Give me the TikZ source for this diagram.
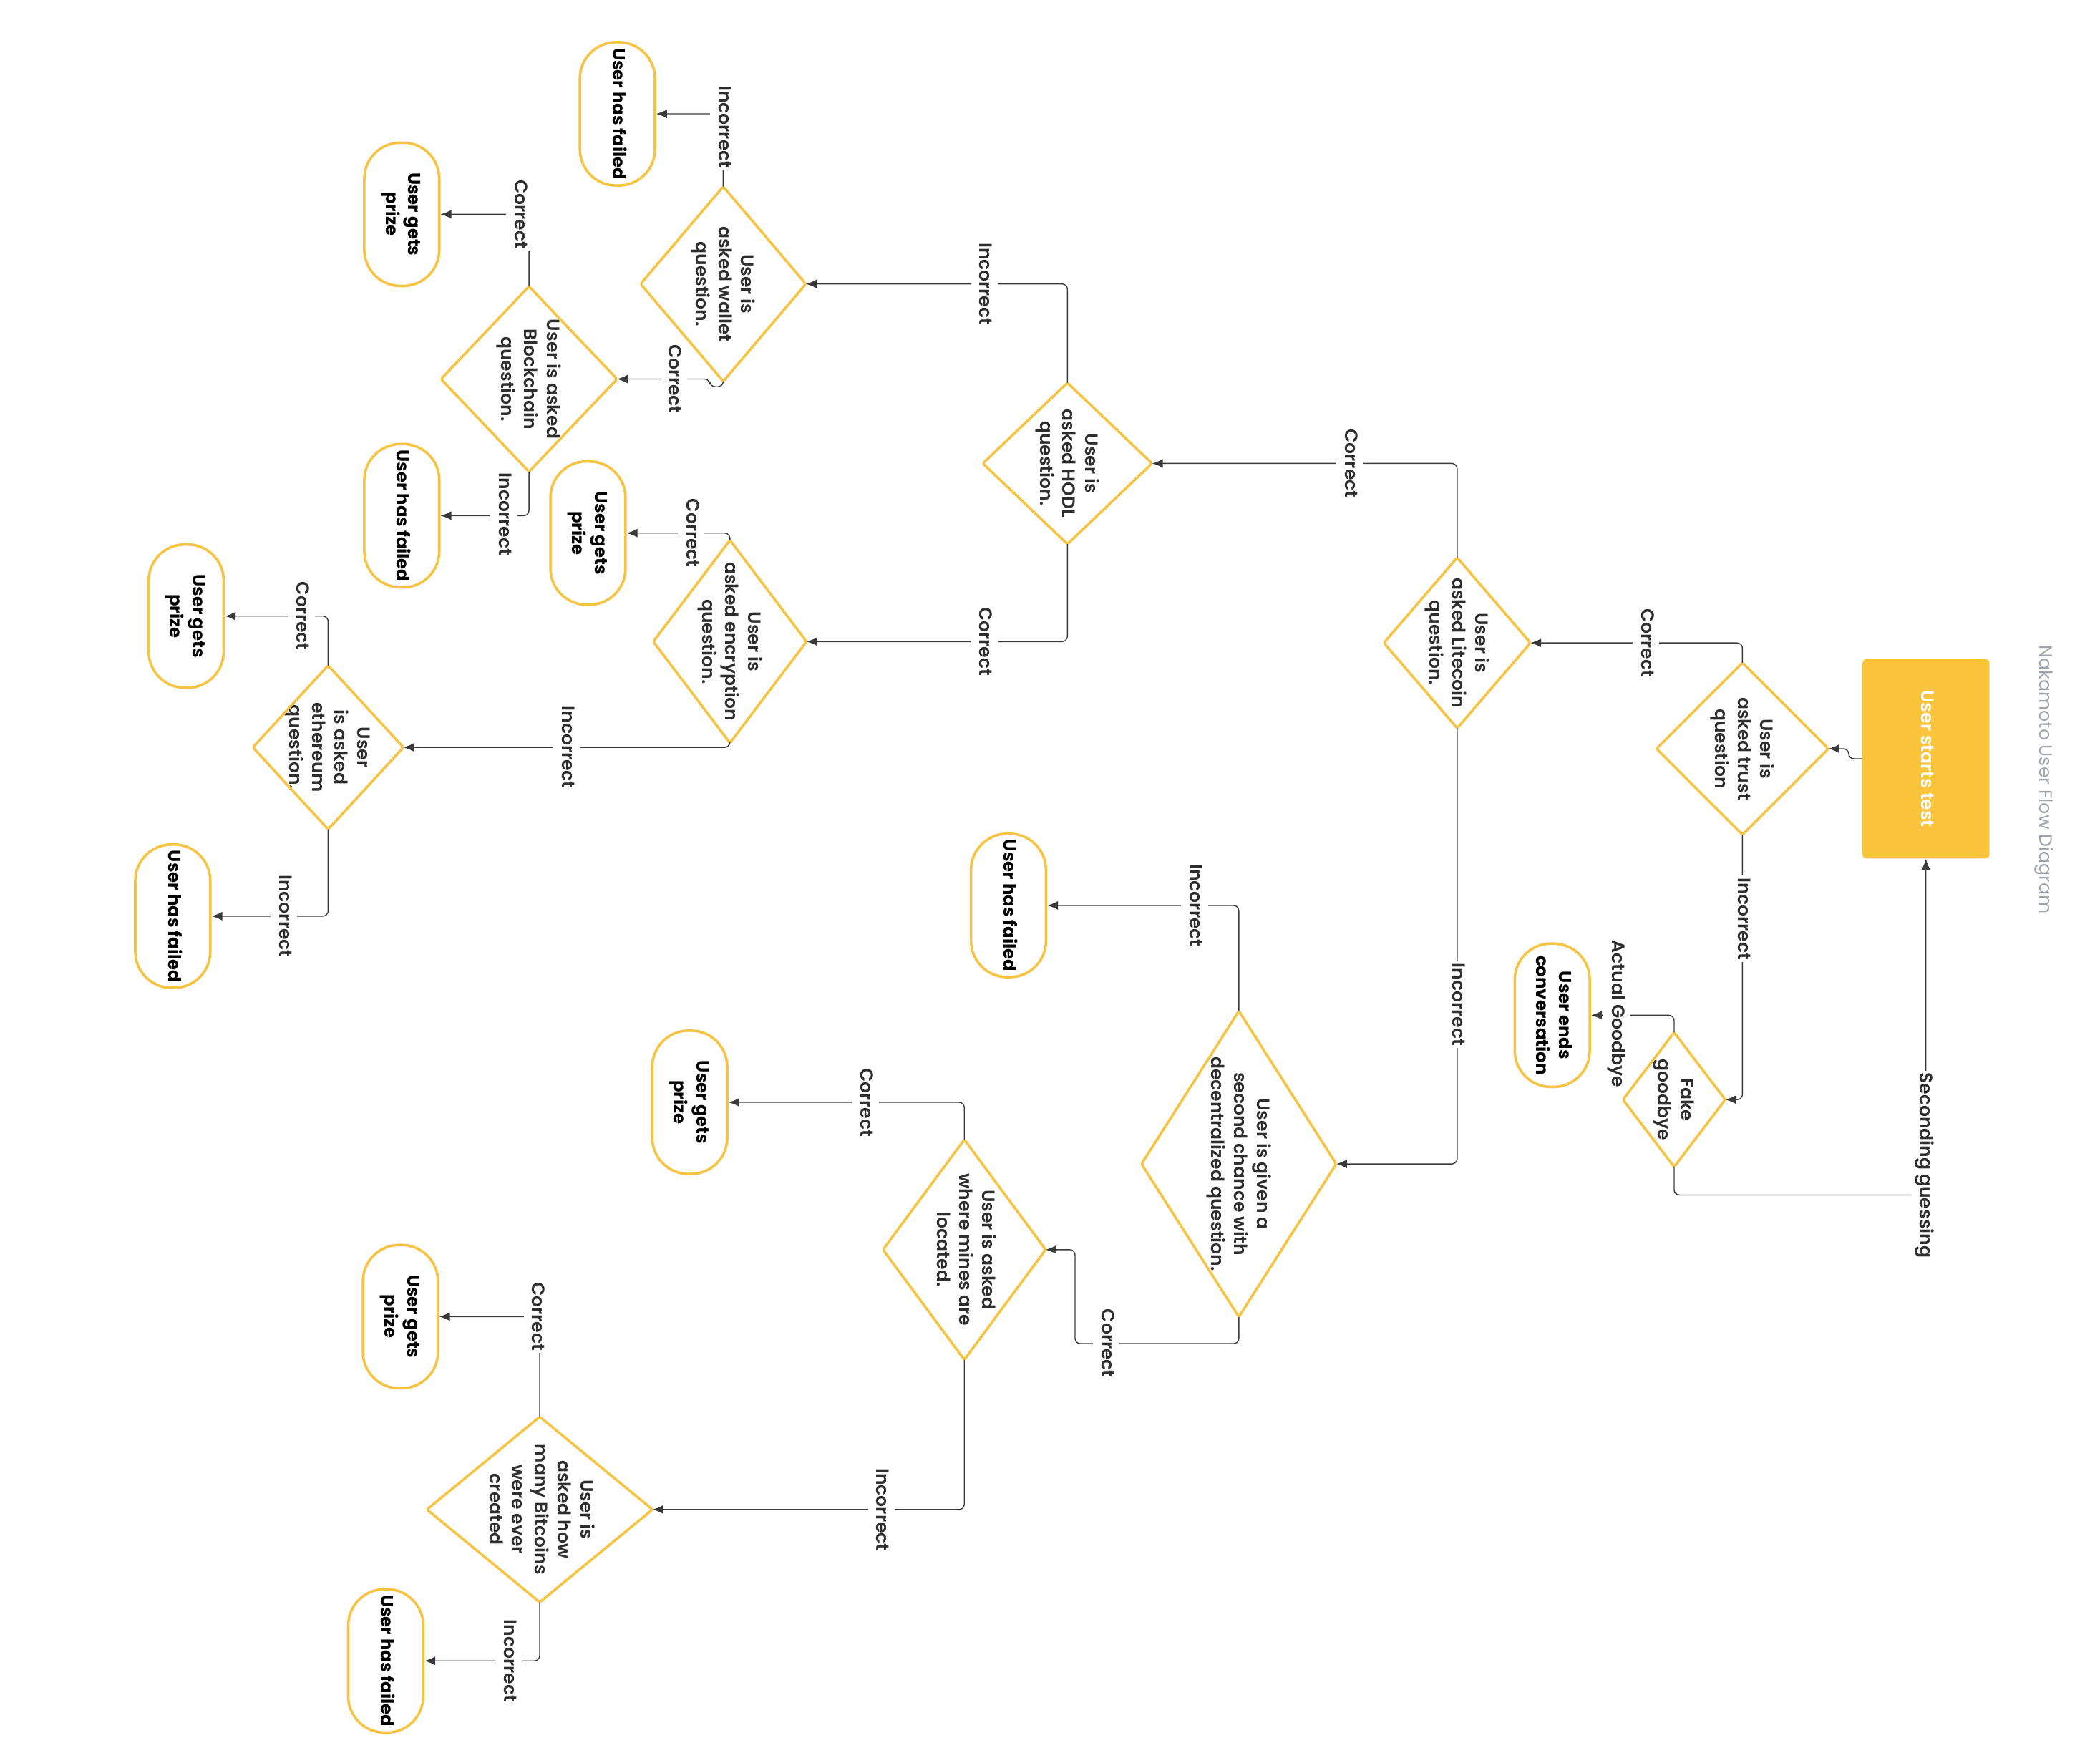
\documentclass[tikz,border=0pt]{standalone}
\usepackage{fontspec}
\setmainfont{Poppins}
\newfontfamily\popsb{Poppins SemiBold}
\usetikzlibrary{arrows.meta}
\definecolor{ylw}{HTML}{F6C343}
\definecolor{ylwfill}{HTML}{FAC43C}
\definecolor{ink}{HTML}{2E2E2E}
\definecolor{lin}{HTML}{3A3A3A}
\definecolor{ttl}{HTML}{9FA4AC}
\newcommand\rtx[1]{\rotatebox{-90}{\begin{tabular}{@{}c@{}}#1\end{tabular}}}
\newcommand\drawdia[1]{\draw[dline] (#1.north)--(#1.east)--(#1.south)--(#1.west)--cycle;}
\begin{document}
\begin{tikzpicture}[x=1pt,y=-1pt,
  base/.style={font=\popsb\fontsize{13.4}{17}\selectfont, text=ink, inner sep=0pt},
  dq/.style={base, draw=none, shape=rectangle},
  dline/.style={draw=ylw, line width=1.9pt, rounded corners=1.5pt, line join=round},
  term/.style={base, font=\bfseries\fontsize{13}{17}\selectfont, text=black, draw=ylw, line width=1.9pt, rounded corners=27pt, minimum width=56pt, minimum height=107pt},
  conn/.style={draw=lin, line width=0.75pt, rounded corners=4pt, -{Latex[length=8pt,width=6.5pt]}},
  lab/.style={base, fill=white, inner sep=1.5pt},
]
\useasboundingbox (0,0) rectangle (1568,1308.3);

% title and start
\node[font=\fontsize{13.5}{16}\selectfont, text=ttl, inner sep=0pt] (title) at (1526,582) {\rotatebox{-90}{Nakamoto User Flow Diagram}};
\node[base, fill=ylwfill, rounded corners=3pt, minimum width=95pt, minimum height=149pt, text=white] (start) at (1438,566.5) {\rtx{User starts test}};

% decision nodes
\node[dq, minimum width=128pt, minimum height=128pt] (trust) at (1301,559) {\rtx{User is\\asked trust\\question}};
\node[dq, minimum width=76pt, minimum height=100pt] (fake) at (1250,821) {\rtx{Fake\\goodbye}};
\node[dq, minimum width=109pt, minimum height=127pt] (lite) at (1088,480) {\rtx{User is\\asked Litecoin\\question.}};
\node[dq, minimum width=145pt, minimum height=228pt] (second) at (925,869) {\rtx{User is given a\\second chance with\\decentralized question.}};
\node[dq, minimum width=121pt, minimum height=164pt] (mines) at (720,933) {\rtx{User is asked\\where mines are\\located.}};
\node[dq, minimum width=168pt, minimum height=138pt] (btc) at (403,1127) {\rtx{User is\\asked how\\many Bitcoins\\were ever\\created}};
\node[dq, minimum width=126pt, minimum height=120pt] (hodl) at (797,346) {\rtx{User is\\asked HODL\\question.}};
\node[dq, minimum width=123pt, minimum height=145pt] (wallet) at (540,212) {\rtx{User is\\asked wallet\\question.}};
\node[dq, minimum width=131pt, minimum height=138pt] (block) at (395,283) {\rtx{User is asked\\Blockchain\\question.}};
\node[dq, minimum width=114pt, minimum height=151pt] (enc) at (545,479) {\rtx{User is\\asked encryption\\question.}};
\node[dq, minimum width=112pt, minimum height=122pt] (eth) at (245,558) {\rtx{User\\is asked\\ethereum\\question.}};
\foreach \d in {trust,fake,lite,second,mines,btc,hodl,wallet,block,enc,eth}{\drawdia{\d}}

% terminators
\node[term] (ends) at (1159,758) {\rtx{User ends\\conversation}};
\node[term] (f1) at (461,85) {\rtx{User has failed}};
\node[term] (p1) at (300,160) {\rtx{User gets\\prize}};
\node[term] (f2) at (300,385) {\rtx{User has failed}};
\node[term] (p2) at (439,398) {\rtx{User gets\\prize}};
\node[term] (p5) at (139,460) {\rtx{User gets\\prize}};
\node[term] (f5) at (129,684) {\rtx{User has failed}};
\node[term] (f3) at (753,676) {\rtx{User has failed}};
\node[term] (p3) at (515,823) {\rtx{User gets\\prize}};
\node[term] (p4) at (299,983) {\rtx{User gets\\prize}};
\node[term] (f4) at (288,1240) {\rtx{User has failed}};

% connectors
\draw[conn] (start.west) -- ++(-10,0) |- (trust.east);
\draw[conn] (trust.north) |- (lite.east);
\draw[conn] (trust.south) |- (fake.east);
\draw[conn] (fake.north) |- (ends.east);
\draw[conn] (fake.south) -- ++(0,21) -| (start.south);
\draw[conn] (lite.north) |- (hodl.east);
\draw[conn] (lite.south) |- (second.east);
\draw[conn] (second.north) |- (f3.east);
\draw[conn] (second.south) -- ++(0,20) -| ([xshift=22pt]mines.east) -- (mines.east);
\draw[conn] (mines.north) |- (p3.east);
\draw[conn] (mines.south) |- (btc.east);
\draw[conn] (btc.north) |- (p4.east);
\draw[conn] (btc.south) |- (f4.east);
\draw[conn] (hodl.north) |- (wallet.east);
\draw[conn] (hodl.south) |- (enc.east);
\draw[conn] (wallet.north) |- (f1.east);
\draw[conn] (wallet.south) -- ++(0,4) -- ++(-10,0) |- (block.east);
\draw[conn] (block.north) |- (p1.east);
\draw[conn] (block.south) |- (f2.east);
\draw[conn] (enc.north) |- (p2.east);
\draw[conn] (enc.south) |- (eth.east);
\draw[conn] (eth.north) |- (p5.east);
\draw[conn] (eth.south) |- (f5.east);

% labels
\node[lab] (l1) at (1229,480) {\rtx{Correct}};
\node[lab] (l2) at (1301,686) {\rtx{Incorrect}};
\node[lab] (l3) at (1207,757) {\rtx{Actual Goodbye}};
\node[lab] (l4) at (1437,870) {\rtx{Seconding guessing}};
\node[lab] (l5) at (1008,346) {\rtx{Correct}};
\node[lab] (l6) at (1088,750) {\rtx{Incorrect}};
\node[lab] (l7) at (892,676) {\rtx{Incorrect}};
\node[lab] (l8) at (826,1003) {\rtx{Correct}};
\node[lab] (l9) at (646,823) {\rtx{Correct}};
\node[lab] (l10) at (658,1127) {\rtx{Incorrect}};
\node[lab] (l11) at (401,983) {\rtx{Correct}};
\node[lab] (l12) at (380,1240) {\rtx{Incorrect}};
\node[lab] (l13) at (735,212) {\rtx{Incorrect}};
\node[lab] (l14) at (735,479) {\rtx{Correct}};
\node[lab] (l15) at (540,95) {\rtx{Incorrect}};
\node[lab] (l16) at (503,283) {\rtx{Correct}};
\node[lab] (l17) at (388,160) {\rtx{Correct}};
\node[lab] (l18) at (376,384) {\rtx{Incorrect}};
\node[lab] (l19) at (516,398) {\rtx{Correct}};
\node[lab] (l20) at (423,558) {\rtx{Incorrect}};
\node[lab] (l21) at (225,460) {\rtx{Correct}};
\node[lab] (l22) at (212,684) {\rtx{Incorrect}};
\end{tikzpicture}
\end{document}
